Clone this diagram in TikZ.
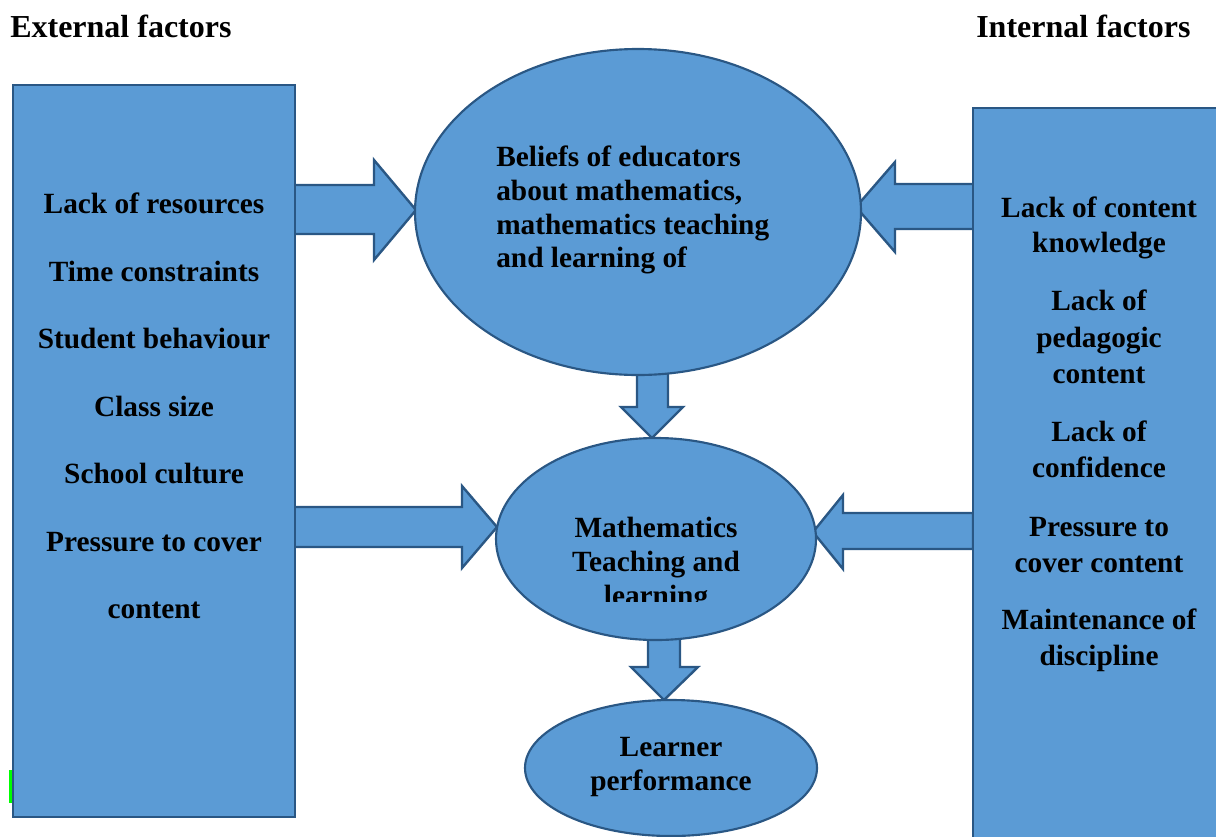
\documentclass[tikz,border=0pt]{standalone}
\usepackage{fontspec}
\setmainfont{Liberation Serif}
\begin{document}
\begin{tikzpicture}[x=0.75pt,y=-0.75pt]
\definecolor{boxfill}{HTML}{5B9BD5}
\definecolor{boxline}{HTML}{2A5784}
\tikzset{
 blk/.style={fill=boxfill, draw=boxline, line width=1.8pt, line join=miter},
 ell/.style={fill=boxfill, draw=boxline, line width=1.6pt},
 txt/.style={font=\fontsize{22}{26}\selectfont\bfseries, inner sep=0pt, anchor=base},
 head/.style={font=\fontsize{24}{28}\selectfont\bfseries, inner sep=0pt, anchor=base west},
}
\useasboundingbox (0,0) rectangle (1216,836);
\begin{scope}
\clip (0,0) rectangle (1216,836);
% block arrows
\draw[blk] (293,185) -- (374,185) -- (374,160) -- (416,210) -- (374,260) -- (374,234) -- (293,234) -- cycle;
\draw[blk] (976,184) -- (895,184) -- (895,162) -- (856,207) -- (895,252) -- (895,229) -- (976,229) -- cycle;
\draw[blk] (637,372) -- (668,372) -- (668,407) -- (683,407) -- (652,438) -- (621,407) -- (637,407) -- cycle;
\draw[blk] (293,507) -- (462,507) -- (462,486) -- (497,527) -- (462,568) -- (462,547) -- (293,547) -- cycle;
\draw[blk] (973,513) -- (843,513) -- (843,495) -- (813,532) -- (843,569) -- (843,549) -- (973,549) -- cycle;
\draw[blk] (648,633) -- (680,633) -- (680,667) -- (698,667) -- (664,700) -- (631,667) -- (648,667) -- cycle;
% boxes
\draw[blk] (13,85) rectangle (295,817);
\draw[blk] (973,108) rectangle (1240,860);
\fill[green] (9,770) rectangle (12,803);
% ellipses
\draw[ell] (638,212) ellipse [x radius=223, y radius=163];
\draw[ell] (656,539) ellipse [x radius=160, y radius=101];
\draw[ell] (671,768) ellipse [x radius=146, y radius=68];
\end{scope}
% headers
\node[head] (hext) at (10,37) {External factors};
\node[head] (hint) at (976,37) {Internal factors};
% left box
\node[txt] (l1) at (154,213) {Lack of resources};
\node[txt] (l2) at (154,281) {Time constraints};
\node[txt] (l3) at (154,348) {Student behaviour};
\node[txt] (l4) at (154,416) {Class size};
\node[txt] (l5) at (154,483) {School culture};
\node[txt] (l6) at (154,551) {Pressure to cover};
\node[txt] (l7) at (154,618) {content};
% right box
\node[txt] (r1) at (1099,217) {Lack of content};
\node[txt] (r2) at (1099,252) {knowledge};
\node[txt] (r3) at (1099,310) {Lack of};
\node[txt] (r4) at (1099,347) {pedagogic};
\node[txt] (r5) at (1099,383) {content};
\node[txt] (r6) at (1099,441) {Lack of};
\node[txt] (r7) at (1099,477) {confidence};
\node[txt] (r8) at (1099,536) {Pressure to};
\node[txt] (r9) at (1099,572) {cover content};
\node[txt] (r10) at (1099,629) {Maintenance of};
\node[txt] (r11) at (1099,665) {discipline};
% ellipse 1
\node[txt, anchor=base west] (e1a) at (496,166) {Beliefs of educators};
\node[txt, anchor=base west] (e1b) at (496,200) {about mathematics,};
\node[txt, anchor=base west] (e1c) at (496,234) {mathematics teaching};
\node[txt, anchor=base west] (e1d) at (496,267) {and learning of};
% ellipse 2
\begin{scope}
\clip (400,400) rectangle (900,601);
\node[txt] (e2a) at (656,537) {Mathematics};
\node[txt] (e2b) at (656,571) {Teaching and};
\node[txt] (e2c) at (656,605) {learning};
\end{scope}
% ellipse 3
\node[txt] (e3a) at (671,756) {Learner};
\node[txt] (e3b) at (671,790) {performance};
\end{tikzpicture}
\end{document}
